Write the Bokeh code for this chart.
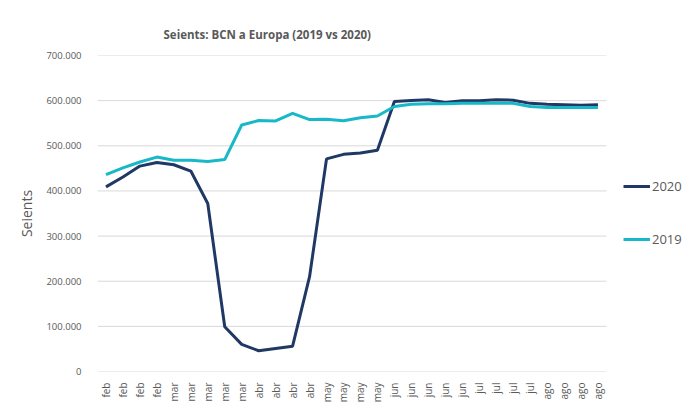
import math
from bokeh.plotting import figure
from bokeh.models import Range1d, FixedTicker, Legend, LegendItem, ColumnDataSource
from bokeh.embed import file_html
from bokeh.resources import INLINE

months = ["feb"] * 4 + ["mar"] * 5 + ["abr"] * 4 + ["may"] * 4 + ["jun"] * 5 + ["jul"] * 4 + ["ago"] * 4

seats_2020 = [409000, 431000, 455000, 463000, 458000, 444000, 372000, 99000, 60000, 46000,
              51000, 56000, 210000, 471000, 481000, 484000, 490000, 598000, 600500, 602000,
              596000, 600000, 600000, 602000, 601000, 594000, 592000, 591000, 590000, 591000]

seats_2019 = [436000, 451000, 464000, 475000, 468000, 468000, 465000, 469500, 546000, 556000,
              555000, 572000, 558000, 559000, 555500, 562000, 566000, 587000, 592000, 593000,
              593000, 594000, 594000, 594000, 594000, 587000, 585000, 585000, 585000, 585000]

y_ticks = [0, 100000, 200000, 300000, 400000, 500000, 600000, 700000]
y_labels = ["0", "100.000", "200.000", "300.000", "400.000", "500.000", "600.000", "700.000"]

idx = list(range(len(months)))
src = ColumnDataSource(dict(x=idx, y2020=seats_2020, y2019=seats_2019))

GRAY = "#595959"
FONT = "Open Sans"

n = len(months)
# frame spans the plot area plus room on the right for the legend
p = figure(width=685, height=405, output_backend="svg", toolbar_location=None,
           x_range=Range1d(-0.5, n - 0.5 + 4.66), y_range=Range1d(0, 700000),
           min_border_left=97, min_border_right=0, min_border_top=55, min_border_bottom=33)

p.title.text = "Seients: BCN a Europa (2019 vs 2020)"
p.title.align = "left"
p.title.offset = 66
p.title.text_font = FONT
p.title.text_font_size = "11.5px"
p.title.text_font_style = "bold"
p.title.text_color = GRAY
p.title.standoff = 27

p.outline_line_color = None

# horizontal gridlines limited to the category span
grid_src = ColumnDataSource(dict(y=y_ticks, x0=[-0.5] * len(y_ticks), x1=[n - 0.5] * len(y_ticks)))
p.segment(x0="x0", x1="x1", y0="y", y1="y", source=grid_src, line_color="#D9D9D9", line_width=1)

# x axis
p.xaxis.ticker = FixedTicker(ticks=idx)
p.xaxis.major_label_overrides = {i: m for i, m in enumerate(months)}
p.xaxis.major_label_orientation = math.pi / 2
p.xaxis.major_label_text_font = FONT
p.xaxis.major_label_text_font_size = "10px"
p.xaxis.major_label_text_color = GRAY
p.xaxis.major_tick_line_color = None
p.xaxis.minor_tick_line_color = None
p.xaxis.axis_line_color = None
p.xaxis.major_label_standoff = 5
p.xgrid.grid_line_color = None

# y axis
p.yaxis.ticker = FixedTicker(ticks=y_ticks)
p.yaxis.major_label_overrides = {t: l for t, l in zip(y_ticks, y_labels)}
p.yaxis.major_label_text_font = FONT
p.yaxis.major_label_text_font_size = "9.5px"
p.yaxis.major_label_text_color = GRAY
p.yaxis.major_tick_line_color = None
p.yaxis.minor_tick_line_color = None
p.yaxis.axis_line_color = None
p.yaxis.major_label_standoff = 10
p.yaxis.axis_label = "Seients"
p.yaxis.axis_label_text_font = FONT
p.yaxis.axis_label_text_font_size = "14px"
p.yaxis.axis_label_text_font_style = "normal"
p.yaxis.axis_label_text_color = GRAY
p.yaxis.axis_label_standoff = 7
p.ygrid.grid_line_color = None

r2020 = p.line("x", "y2020", source=src, line_color="#1F3864", line_width=3)
r2019 = p.line("x", "y2019", source=src, line_color="#17B8C8", line_width=3)

legend = Legend(items=[LegendItem(label="2020", renderers=[r2020]),
                       LegendItem(label="2019", renderers=[r2019])],
                location=(526, 122), orientation="vertical",
                glyph_width=27, glyph_height=20, label_height=20, spacing=33,
                padding=0, margin=0, label_standoff=2,
                border_line_color=None, background_fill_alpha=0,
                label_text_font=FONT, label_text_font_size="13px", label_text_color=GRAY)
p.add_layout(legend, "center")

open("out.html", "w").write(file_html(p, INLINE))
